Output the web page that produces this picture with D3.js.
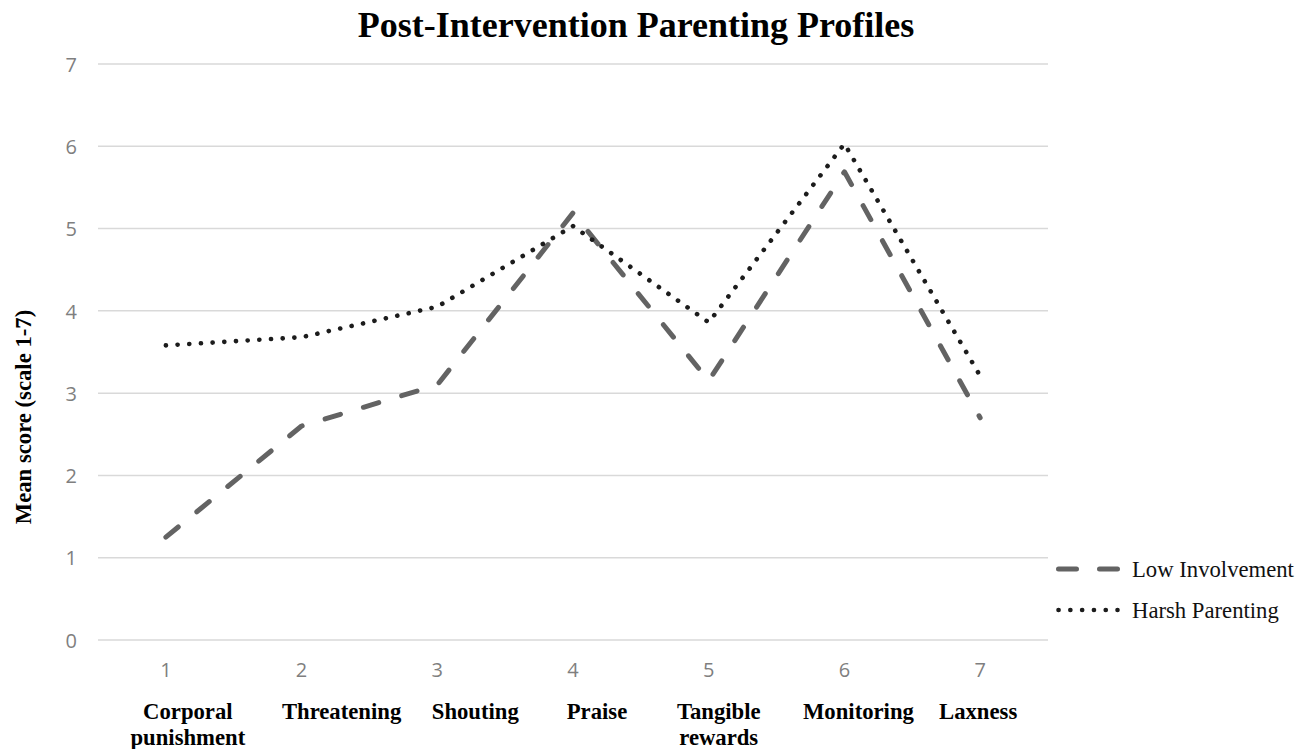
<!DOCTYPE html>
<html>
<head>
<meta charset="utf-8">
<script src="https://cdn.jsdelivr.net/npm/d3@7"></script>
<style>
  body { margin: 0; background: #fff; }
  .catLabel { font-family: "Liberation Serif", "Times New Roman", serif; font-size: 22.7px; font-weight: bold; fill: #000; }
  .legendText { font-family: "Liberation Serif", "Times New Roman", serif; font-size: 22.7px; fill: #111; }
</style>
</head>
<body>
<div id="wrapper"></div>
<script>
// chart data
var categories = ["1", "2", "3", "4", "5", "6", "7"];
var categoryNames = [["Corporal", "punishment"], ["Threatening"], ["Shouting"], ["Praise"], ["Tangible", "rewards"], ["Monitoring"], ["Laxness"]];
var lowInvolvement = [1.25, 2.6, 3.1, 5.19, 3.15, 5.69, 2.7];
var harshParenting = [3.58, 3.68, 4.05, 5.03, 3.86, 6.03, 3.21];
var yTicks = [0, 1, 2, 3, 4, 5, 6, 7];
var seriesNames = ["Low Involvement", "Harsh Parenting"];

// category labels sit a bit to the right of the ticks in the original
var labelShift = [22, 40, 38, 24, 10, 14, -2];

let dimensions = {
  width: 1307,
  height: 749,
  margin: { top: 64, right: 259, bottom: 109, left: 98 }
};
dimensions.boundedWidth = dimensions.width - dimensions.margin.left - dimensions.margin.right;
dimensions.boundedHeight = dimensions.height - dimensions.margin.top - dimensions.margin.bottom;

const wrapper = d3.select("#wrapper")
  .append("svg")
  .attr("width", dimensions.width)
  .attr("height", dimensions.height);

wrapper.append("rect")
  .attr("width", dimensions.width)
  .attr("height", dimensions.height)
  .attr("fill", "#fff");

const bounds = wrapper.append("g")
  .attr("transform", `translate(${dimensions.margin.left},${dimensions.margin.top})`);

// scales
const xScale = d3.scaleBand()
  .domain(categories)
  .range([0, dimensions.boundedWidth]);
const xCenter = (d) => xScale(d) + xScale.bandwidth() / 2;

const yScale = d3.scaleLinear()
  .domain([0, 7])
  .range([dimensions.boundedHeight, 0]);

// gridlines
bounds.append("g")
  .selectAll("line")
  .data(yTicks)
  .enter()
  .append("line")
  .attr("x1", 0)
  .attr("x2", dimensions.boundedWidth)
  .attr("y1", (d) => yScale(d))
  .attr("y2", (d) => yScale(d))
  .attr("stroke", "#d9d9d9")
  .attr("stroke-width", 1.5);

const styleNum = (sel) => sel
  .attr("fill", "#7f7f7f")
  .attr("dy", "0.36em")
  .style("font-family", "'Open Sans', 'Noto Sans', sans-serif")
  .style("font-size", "20px");

// y axis numbers
const yAxis = bounds.append("g")
  .call(d3.axisLeft(yScale).tickValues(yTicks).tickFormat(d3.format("d")).tickSize(0).tickPadding(21));
yAxis.select(".domain").remove();
yAxis.selectAll("text").call(styleNum);

// x axis numbers
const xAxis = bounds.append("g")
  .attr("transform", `translate(0,${dimensions.boundedHeight})`)
  .call(d3.axisBottom(xScale).tickSize(0).tickPadding(30));
xAxis.select(".domain").remove();
xAxis.selectAll("text").call(styleNum);

// category names under the numbers
const catG = bounds.append("g");
categories.forEach((c, i) => {
  const t = catG.append("text")
    .attr("class", "catLabel")
    .attr("text-anchor", "middle")
    .attr("x", xCenter(c) + labelShift[i])
    .attr("y", dimensions.boundedHeight + 79);
  categoryNames[i].forEach((line, j) => {
    t.append("tspan")
      .attr("x", xCenter(c) + labelShift[i])
      .attr("dy", j === 0 ? 0 : 26)
      .text(line);
  });
});

// straight segments between the points
const lineGenerator = d3.line()
  .x((d, i) => xCenter(categories[i]))
  .y((d) => yScale(d));

bounds.append("path")
  .attr("d", lineGenerator(lowInvolvement))
  .attr("fill", "none")
  .attr("stroke", "#636363")
  .attr("stroke-width", 5)
  .attr("stroke-linecap", "round")
  .attr("stroke-linejoin", "round")
  .attr("stroke-dasharray", "16 24");

bounds.append("path")
  .attr("d", lineGenerator(harshParenting))
  .attr("fill", "none")
  .attr("stroke", "#1c1c1c")
  .attr("stroke-width", 4.6)
  .attr("stroke-linecap", "round")
  .attr("stroke-linejoin", "round")
  .attr("stroke-dasharray", "0.1 11.6");

// title
wrapper.append("text")
  .attr("x", 636)
  .attr("y", 37)
  .attr("text-anchor", "middle")
  .style("font-family", "'Liberation Serif', 'Times New Roman', serif")
  .style("font-weight", "bold")
  .style("font-size", "36px")
  .text("Post-Intervention Parenting Profiles");

// y-axis description
wrapper.append("text")
  .attr("transform", "translate(31,417) rotate(-90)")
  .attr("text-anchor", "middle")
  .style("font-family", "'Liberation Serif', 'Times New Roman', serif")
  .style("font-weight", "bold")
  .style("font-size", "22.7px")
  .text("Mean score (scale 1-7)");

// legend
const legendStyles = [
  { stroke: "#636363", width: 5, dash: "18 23" },
  { stroke: "#1c1c1c", width: 4.6, dash: "0.1 11.7" }
];
const legend = wrapper.append("g")
  .attr("transform", "translate(1056,569)");
seriesNames.forEach((name, i) => {
  const row = legend.append("g").attr("transform", `translate(0,${i * 41})`);
  row.append("line")
    .attr("x1", 2.5)
    .attr("x2", 61.5)
    .attr("stroke", legendStyles[i].stroke)
    .attr("stroke-width", legendStyles[i].width)
    .attr("stroke-linecap", "round")
    .attr("stroke-dasharray", legendStyles[i].dash);
  row.append("text")
    .attr("class", "legendText")
    .attr("x", 76)
    .attr("dy", "0.33em")
    .text(name);
});
</script>
</body>
</html>
